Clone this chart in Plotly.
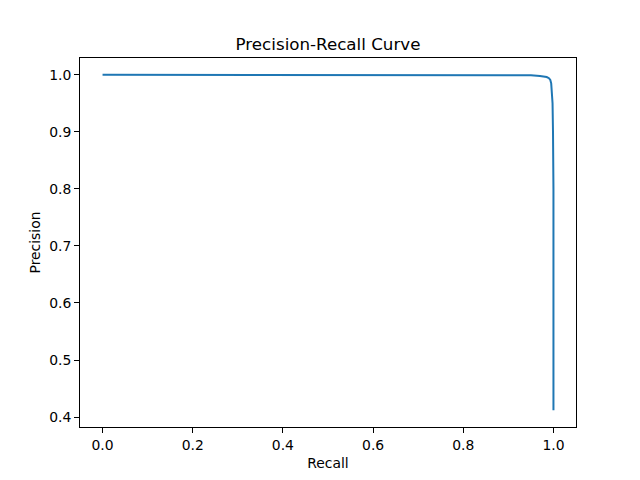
import plotly.graph_objects as go

# precision-recall points
recall = [0.0, 0.1, 0.2, 0.37, 0.5, 0.6, 0.75, 0.85, 0.9, 0.95, 0.97, 0.98,
          0.985, 0.99, 0.993, 0.995, 0.997, 0.998, 0.999, 1.0, 1.0, 1.0]
precision = [1.0, 1.0, 1.0, 0.9998, 0.9995, 0.9995, 0.9995, 0.9993, 0.9992, 0.999, 0.998, 0.997,
             0.996, 0.994, 0.991, 0.985, 0.97, 0.95, 0.9, 0.8, 0.6, 0.412]

xticks = [0.0, 0.2, 0.4, 0.6, 0.8, 1.0]
yticks = [0.4, 0.5, 0.6, 0.7, 0.8, 0.9, 1.0]

fig = go.Figure()
fig.add_trace(go.Scatter(
    x=recall, y=precision, mode='lines',
    line=dict(color='#1f77b4', width=2),
    showlegend=False,
))

axis_style = dict(
    showline=True, linecolor='black', linewidth=1, mirror=True,
    ticks='outside', ticklen=5, tickwidth=1, tickcolor='black',
    showgrid=False, zeroline=False, tickformat='.1f', automargin=False,
    tickfont=dict(size=13.9, color='black'),
)

# the page body adds an 8px offset, so margins are shifted to compensate
fig.update_layout(
    width=640, height=480,
    margin=dict(l=72, r=72, t=50, b=61),
    paper_bgcolor='white', plot_bgcolor='white',
    font=dict(family='DejaVu Sans', color='black'),
    title=dict(text='Precision-Recall Curve', x=0.5, xanchor='center',
               y=1 - 36 / 480, yanchor='middle', font=dict(size=16.7),
               automargin=False),
    xaxis=dict(axis_style, range=[-0.05, 1.05], tickvals=xticks,
               title=dict(text='Recall', font=dict(size=13.9), standoff=6)),
    yaxis=dict(axis_style, range=[0.3826, 1.0294], tickvals=yticks,
               title=dict(text='Precision', font=dict(size=13.9), standoff=5)),
)

fig.write_html('out.html')
